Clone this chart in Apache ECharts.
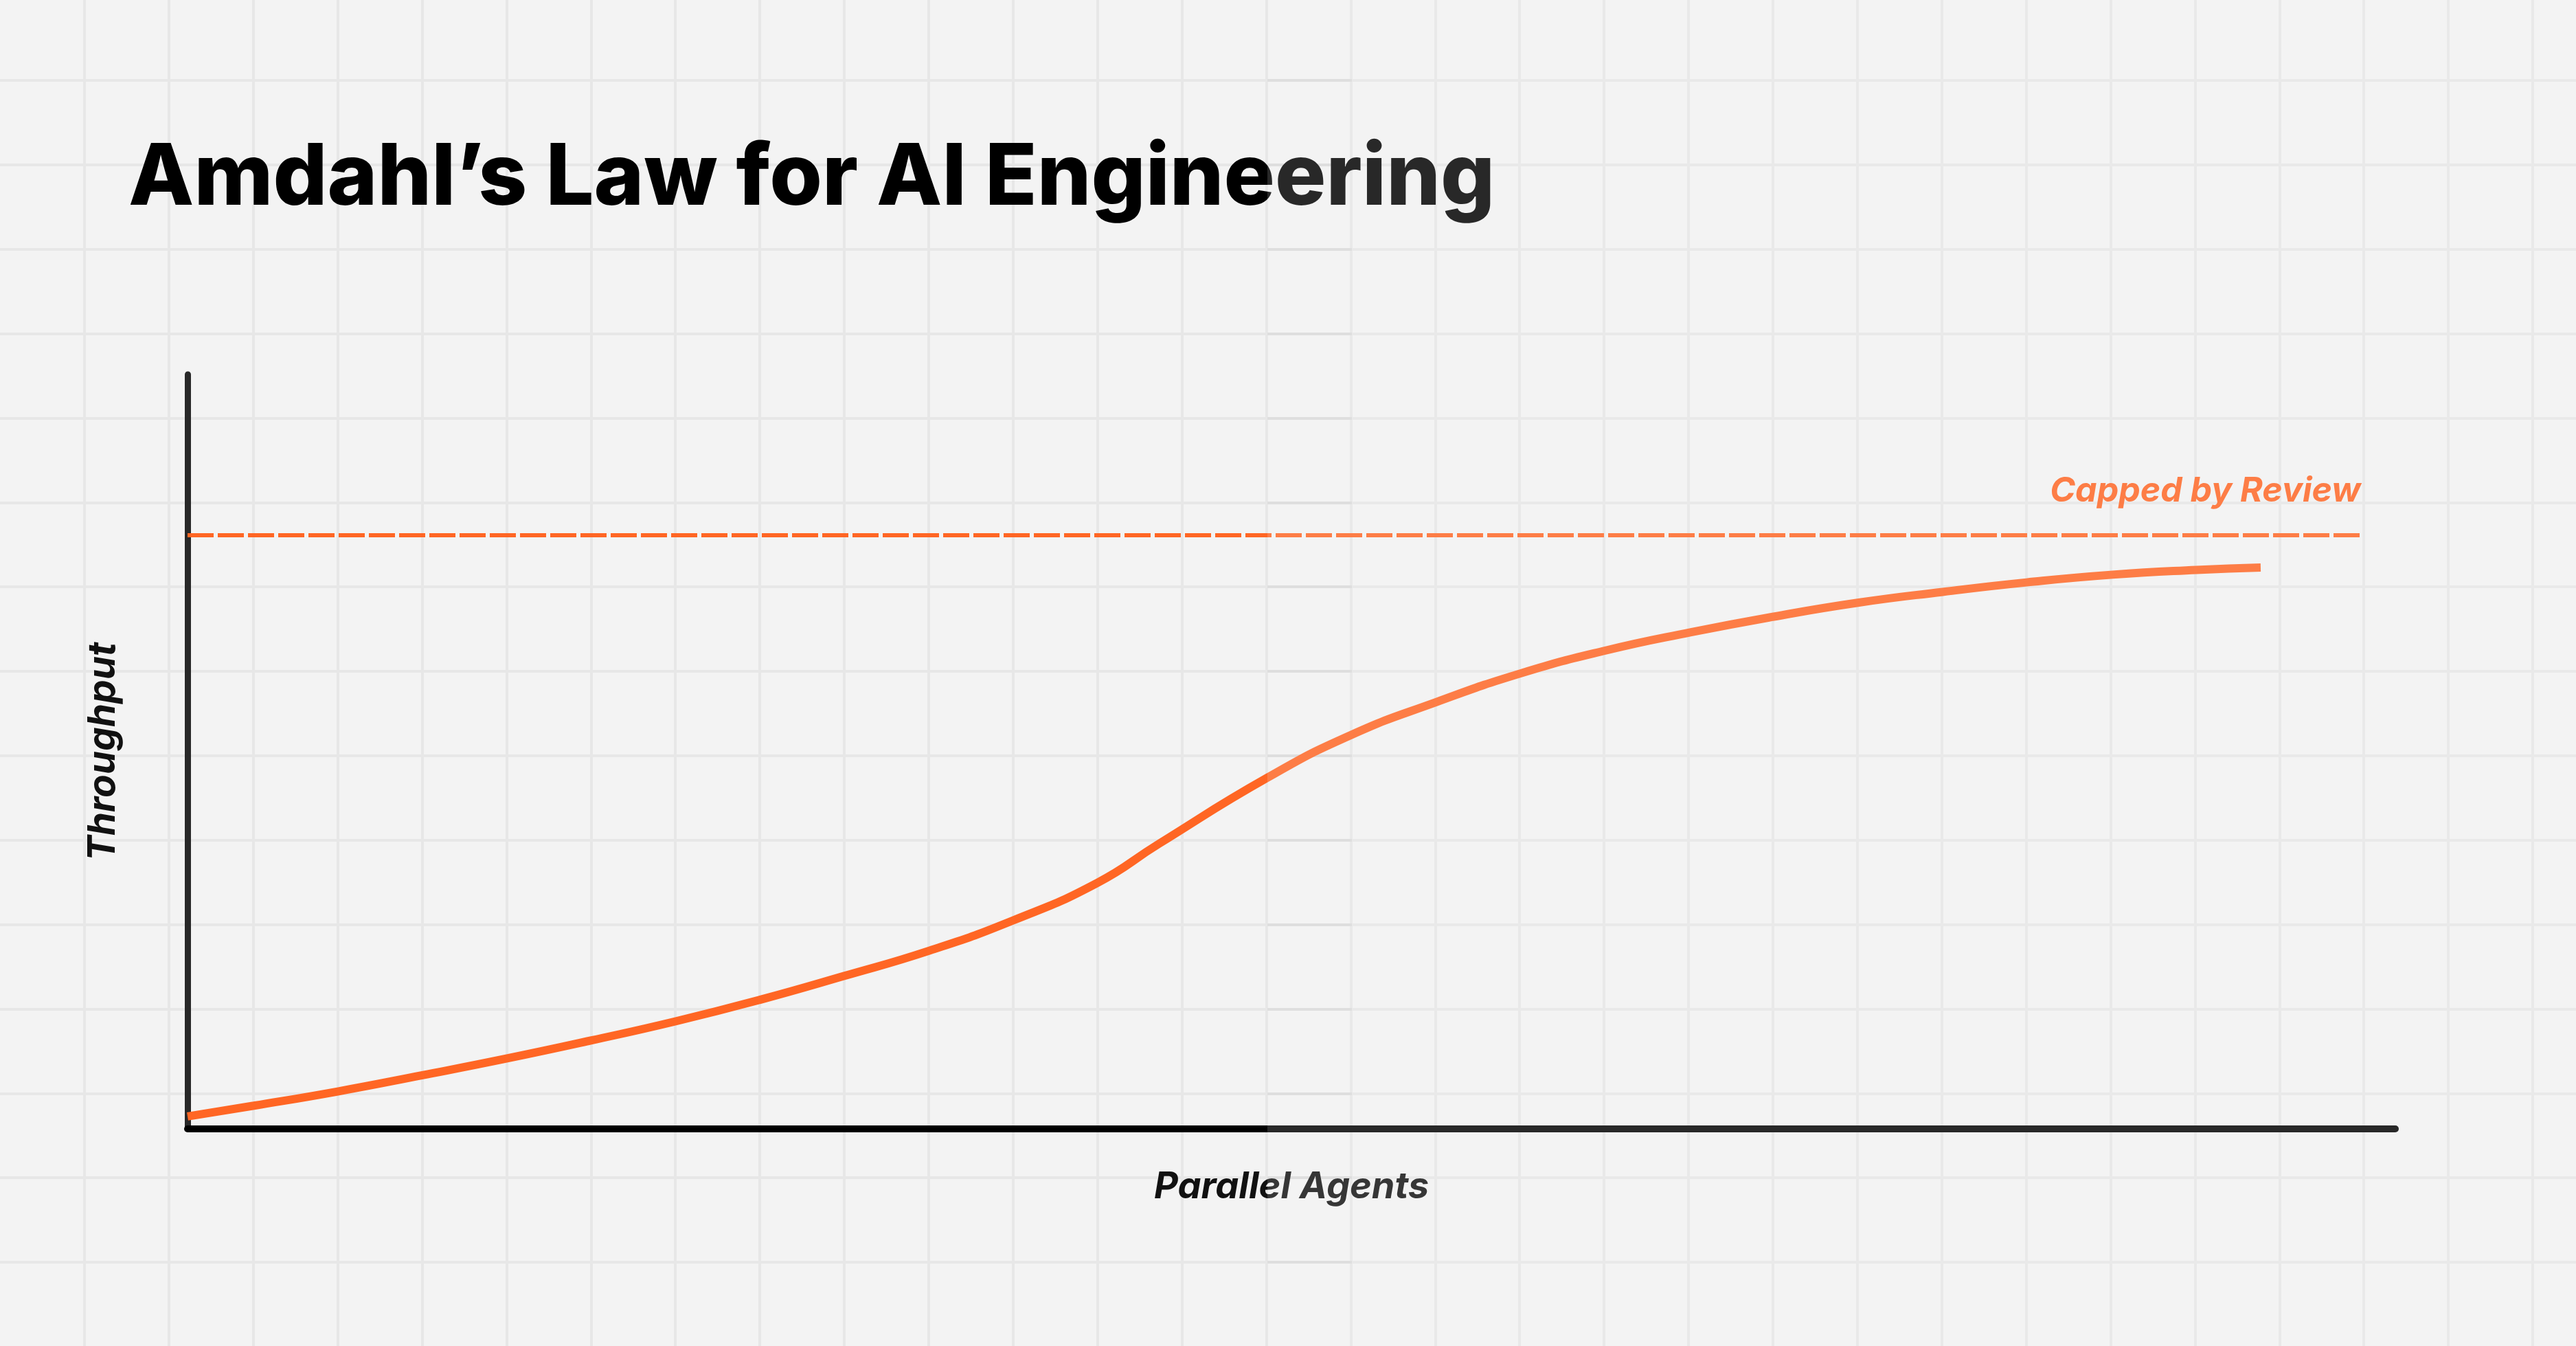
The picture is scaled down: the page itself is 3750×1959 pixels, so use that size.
<!DOCTYPE html>
<html>
<head>
<meta charset="utf-8">
<script src="https://cdn.jsdelivr.net/npm/echarts@6/dist/echarts.min.js"></script>
<style>
  html, body { margin: 0; padding: 0; background: #f3f3f3; }
  #chart { width: 3750px; height: 1959px; }
</style>
</head>
<body>
<div id="chart"></div>
<script>
// ---- data ----
const titleText = 'Amdahl\u2019s Law for AI Engineering';
const xName = 'Parallel Agents';
const yName = 'Throughput';
const capLabel = 'Capped by Review';
const agents = [0, 3, 6.8, 10.6, 14.4, 18.3, 22.1, 25.9, 29.7, 33.6, 37.4, 41.2, 44.0, 48.9, 52.7, 56.6, 60.4, 64.2, 68.1, 71.8, 75.7, 79.5, 83.3, 87.2, 91, 93.9];
const throughput = [2.1, 3.9, 6.3, 9.0, 11.8, 14.9, 18.1, 21.7, 25.7, 30.0, 35.1, 41.4, 48.0, 59.1, 66.3, 71.9, 76.7, 80.5, 83.6, 86.2, 88.6, 90.4, 92.0, 93.3, 94.1, 94.5];
const capLevel = 100;
const capEnd = 98.5;
const xMax = 100;
const yMax = 127;

const orange = '#FF6624';
const fam = 'Inter';

const chart = echarts.init(document.getElementById('chart'), null, { renderer: 'canvas' });

const bgSplit = (color) => ({
  show: true,
  showMinLine: false,
  showMaxLine: false,
  lineStyle: { color: color, width: 4 }
});

chart.setOption({
  animation: false,
  backgroundColor: '#f3f3f3',
  title: {
    text: titleText,
    left: 187,
    top: 199,
    padding: 0,
    textStyle: { fontFamily: fam, fontWeight: 800, fontSize: 124, lineHeight: 124, color: '#000' }
  },
  grid: [
    { left: 273, right: 263, top: 545, bottom: 316, outerBoundsMode: 'none', containLabel: false },
    { left: 0, right: 0, top: -5.8, bottom: 0, outerBoundsMode: 'none', containLabel: false },
    { left: 1845, width: 123, top: -5.8, bottom: 0, outerBoundsMode: 'none', containLabel: false }
  ],
  xAxis: [
    {
      gridIndex: 0, type: 'value', min: 0, max: xMax,
      axisLine: { show: true, onZero: false, lineStyle: { color: '#000', width: 10 } },
      axisTick: { show: false }, axisLabel: { show: false }, splitLine: { show: false },
      name: xName, nameLocation: 'middle', nameGap: 58,
      nameTextStyle: { fontFamily: fam, fontWeight: 700, fontStyle: 'italic', fontSize: 54, color: '#111' },
      z: 3
    },
    {
      gridIndex: 1, type: 'value', min: 0, max: 3750, interval: 122.9,
      axisLine: { show: false }, axisTick: { show: false }, axisLabel: { show: false },
      splitLine: bgSplit('#e7e7e7'), z: 0
    },
    {
      gridIndex: 2, type: 'value', min: 0, max: 1,
      axisLine: { show: false }, axisTick: { show: false }, axisLabel: { show: false },
      splitLine: { show: false }, z: 0
    }
  ],
  yAxis: [
    {
      gridIndex: 0, type: 'value', min: 0, max: yMax,
      axisLine: { show: true, onZero: false, lineStyle: { color: '#282828', width: 9 } },
      axisTick: { show: false }, axisLabel: { show: false }, splitLine: { show: false },
      name: yName, nameLocation: 'middle', nameGap: 95, nameRotate: 90,
      nameTextStyle: { fontFamily: fam, fontWeight: 700, fontStyle: 'italic', fontSize: 55, color: '#111' },
      z: 3
    },
    {
      gridIndex: 1, type: 'value', inverse: true, min: 0, max: 1964.8, interval: 122.85,
      axisLine: { show: false }, axisTick: { show: false }, axisLabel: { show: false },
      splitLine: bgSplit('#e7e7e7'), z: 0
    },
    {
      gridIndex: 2, type: 'value', inverse: true, min: 0, max: 1964.8, interval: 122.85,
      axisLine: { show: false }, axisTick: { show: false }, axisLabel: { show: false },
      splitLine: bgSplit('#dadada'), z: 1
    }
  ],
  series: [
    {
      type: 'line',
      xAxisIndex: 0, yAxisIndex: 0,
      data: agents.map((a, i) => [a, throughput[i]]),
      showSymbol: false,
      symbol: 'none',
      smooth: 0.5,
      lineStyle: { color: orange, width: 12, cap: 'butt' },
      z: 4,
      markLine: {
        silent: true,
        symbol: ['none', 'none'],
        lineStyle: { color: orange, width: 6, type: [38, 6] },
        label: {
          show: true,
          position: 'insideEndTop',
          formatter: capLabel,
          distance: [2, 38],
          fontFamily: fam, fontWeight: 700, fontStyle: 'italic', fontSize: 50, lineHeight: 50,
          color: orange
        },
        data: [[{ coord: [0, capLevel] }, { coord: [capEnd, capLevel] }]]
      }
    }
  ],
  graphic: [
    {
      type: 'rect',
      left: 1845, top: 0,
      shape: { width: 3750 - 1845, height: 1959 },
      style: { fill: 'rgba(243,243,243,0.165)' },
      silent: true,
      z: 100
    }
  ]
});
</script>
</body>
</html>
